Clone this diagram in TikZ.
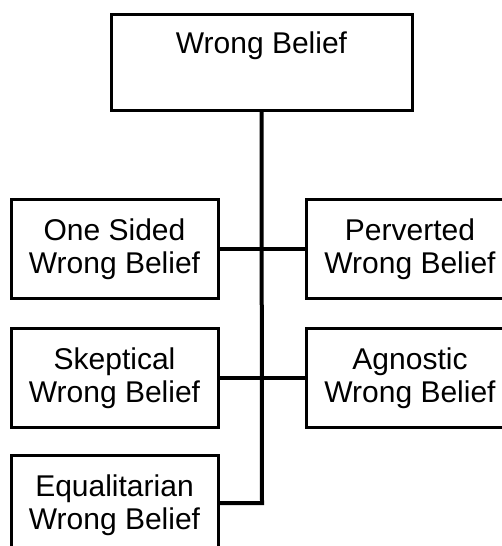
\documentclass[tikz,border=0pt]{standalone}
\usepackage{fontspec}
\setmainfont{Liberation Sans}
\usetikzlibrary{positioning}

\begin{document}
\begin{tikzpicture}[x=0.5pt, y=-0.5pt,
    kind/.style={draw, line width=1.5pt, inner sep=0pt, align=center,
      minimum width=103.5pt, minimum height=49.5pt,
      font=\fontsize{15}{16.5}\selectfont},
    link/.style={line width=2pt}]
  \useasboundingbox (0,0) rectangle (502,546);
  \clip (0,0) rectangle (502,546);

  \node[draw, line width=1.5pt, inner sep=0pt, minimum width=150.5pt,
    text height=19.5pt, text depth=28.5pt, anchor=north,
    font=\fontsize{15}{16.5}\selectfont] (wrong) at (261.5,13) {Wrong Belief};

  \node[kind] (onesided) at (114.5,249) {One Sided\\Wrong Belief};
  \node[kind] (skeptical) at (114.5,378) {Skeptical\\Wrong Belief};
  \node[kind, anchor=north] (equal) at (114.5,454) {Equalitarian\\Wrong Belief};
  \node[kind, anchor=west] (perverted) at (305,249) {Perverted\\Wrong Belief};
  \node[kind, anchor=west] (agnostic) at (305,378) {Agnostic\\Wrong Belief};

  \coordinate (trunk) at (262,503);
  \draw[link] (wrong.south) -- (trunk) -- (equal.east |- trunk);
  \draw[link] (onesided.east) -- (perverted.west);
  \draw[link] (skeptical.east) -- (agnostic.west);
\end{tikzpicture}
\end{document}
